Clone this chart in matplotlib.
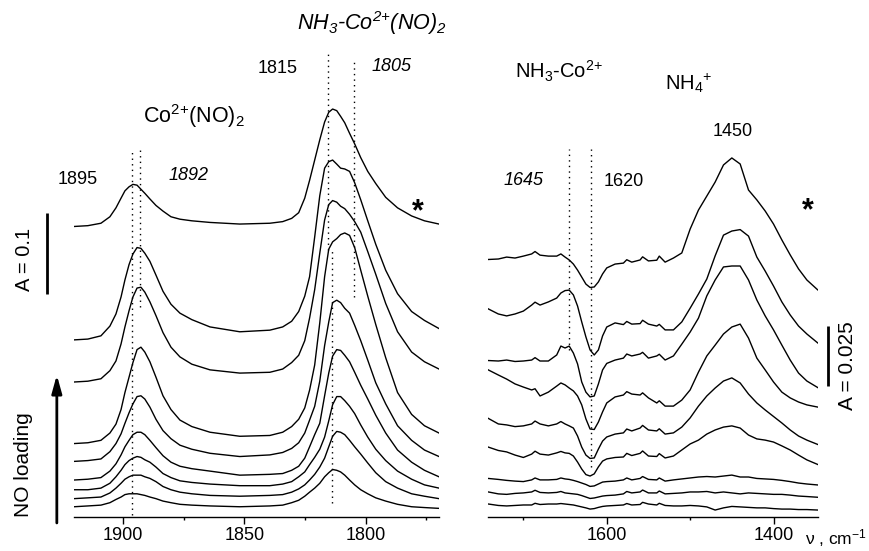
import numpy as np
import matplotlib.pyplot as plt

plt.rcParams['font.family'] = ['Liberation Sans', 'DejaVu Sans']
plt.rcParams['mathtext.default'] = 'regular'

# NO stretching region, spectra from top (*) to bottom, absorbance incl. offset
wn_left = [1920.3, 1914.6, 1909.2, 1905.5, 1903.0, 1900.9, 1899.3, 1897.6, 1896.0, 1894.3,
           1892.7, 1891.1, 1889.0, 1886.5, 1883.6, 1880.3, 1876.6, 1871.7, 1864.2, 1851.9,
           1839.5, 1834.2, 1830.5, 1827.6, 1825.1, 1823.1, 1821.0, 1818.9, 1816.9, 1815.2,
           1813.6, 1811.9, 1810.3, 1808.6, 1806.6, 1804.5, 1802.0, 1799.1, 1795.8, 1791.7,
           1786.8, 1781.0, 1775.7, 1769.7]

no_1 = [0.359, 0.360, 0.363, 0.371, 0.382, 0.394, 0.403, 0.408, 0.411, 0.410, 0.405, 0.400, 0.393, 0.385, 0.378, 0.371, 0.368, 0.366, 0.364, 0.362, 0.363, 0.365, 0.369, 0.376, 0.394, 0.416, 0.441, 0.466, 0.488, 0.500, 0.504, 0.502, 0.495, 0.487, 0.474, 0.461, 0.444, 0.427, 0.412, 0.395, 0.382, 0.372, 0.366, 0.362]
no_2 = [0.219, 0.220, 0.224, 0.236, 0.251, 0.272, 0.293, 0.312, 0.325, 0.333, 0.332, 0.326, 0.316, 0.299, 0.279, 0.263, 0.252, 0.244, 0.235, 0.229, 0.231, 0.235, 0.242, 0.254, 0.273, 0.297, 0.346, 0.397, 0.431, 0.439, 0.441, 0.436, 0.431, 0.430, 0.427, 0.413, 0.392, 0.366, 0.337, 0.305, 0.276, 0.254, 0.243, 0.233]
no_3 = [0.167, 0.168, 0.171, 0.181, 0.193, 0.214, 0.235, 0.255, 0.272, 0.283, 0.284, 0.278, 0.266, 0.249, 0.228, 0.210, 0.198, 0.189, 0.182, 0.178, 0.179, 0.183, 0.191, 0.200, 0.218, 0.246, 0.281, 0.326, 0.367, 0.386, 0.391, 0.389, 0.384, 0.381, 0.374, 0.365, 0.352, 0.328, 0.300, 0.264, 0.229, 0.204, 0.192, 0.183]
no_4 = [0.091, 0.092, 0.095, 0.104, 0.115, 0.133, 0.154, 0.173, 0.191, 0.207, 0.210, 0.204, 0.192, 0.173, 0.150, 0.133, 0.120, 0.112, 0.105, 0.100, 0.101, 0.105, 0.112, 0.121, 0.135, 0.157, 0.188, 0.240, 0.297, 0.331, 0.340, 0.344, 0.349, 0.351, 0.348, 0.333, 0.305, 0.273, 0.238, 0.197, 0.154, 0.127, 0.113, 0.104]
no_5 = [0.069, 0.070, 0.072, 0.081, 0.091, 0.103, 0.116, 0.129, 0.140, 0.149, 0.150, 0.146, 0.136, 0.121, 0.107, 0.097, 0.089, 0.084, 0.079, 0.075, 0.077, 0.080, 0.085, 0.092, 0.104, 0.120, 0.137, 0.168, 0.212, 0.241, 0.265, 0.268, 0.265, 0.258, 0.252, 0.237, 0.218, 0.194, 0.166, 0.140, 0.113, 0.095, 0.083, 0.075]
no_6 = [0.046, 0.047, 0.049, 0.057, 0.066, 0.077, 0.087, 0.095, 0.102, 0.105, 0.105, 0.102, 0.095, 0.086, 0.076, 0.068, 0.063, 0.060, 0.057, 0.052, 0.053, 0.054, 0.058, 0.063, 0.073, 0.087, 0.102, 0.116, 0.150, 0.178, 0.199, 0.207, 0.206, 0.200, 0.192, 0.179, 0.163, 0.146, 0.126, 0.104, 0.083, 0.068, 0.058, 0.050]
no_7 = [0.034, 0.034, 0.036, 0.042, 0.050, 0.058, 0.065, 0.070, 0.073, 0.075, 0.074, 0.071, 0.068, 0.062, 0.054, 0.049, 0.045, 0.043, 0.041, 0.039, 0.039, 0.041, 0.044, 0.050, 0.056, 0.065, 0.074, 0.084, 0.099, 0.119, 0.139, 0.149, 0.149, 0.144, 0.137, 0.128, 0.114, 0.099, 0.084, 0.070, 0.057, 0.047, 0.040, 0.036]
no_8 = [0.023, 0.024, 0.025, 0.030, 0.036, 0.042, 0.047, 0.050, 0.052, 0.052, 0.052, 0.050, 0.048, 0.044, 0.038, 0.034, 0.031, 0.029, 0.027, 0.026, 0.027, 0.028, 0.031, 0.035, 0.040, 0.046, 0.053, 0.062, 0.073, 0.087, 0.100, 0.106, 0.105, 0.102, 0.095, 0.087, 0.078, 0.067, 0.055, 0.044, 0.036, 0.029, 0.026, 0.023]
no_9 = [0.013, 0.014, 0.015, 0.018, 0.022, 0.025, 0.028, 0.029, 0.029, 0.029, 0.028, 0.027, 0.025, 0.023, 0.020, 0.018, 0.016, 0.015, 0.014, 0.013, 0.014, 0.015, 0.018, 0.021, 0.026, 0.031, 0.036, 0.042, 0.050, 0.055, 0.059, 0.058, 0.056, 0.052, 0.046, 0.040, 0.034, 0.029, 0.024, 0.020, 0.016, 0.013, 0.012, 0.011]

# NH deformation region
wn_right = [1742, 1730, 1720, 1710, 1700, 1690, 1686, 1680, 1670, 1660,
            1655, 1650, 1645, 1640, 1635, 1630, 1625, 1620, 1615, 1610,
            1605, 1600, 1590, 1580, 1576, 1570, 1560, 1557, 1550, 1540,
            1537, 1530, 1520, 1510, 1500, 1490, 1480, 1470, 1460, 1450,
            1440, 1430, 1420, 1410, 1400, 1390, 1380, 1370, 1360, 1347]

nh_1 = [0.1069, 0.1071, 0.1079, 0.1075, 0.1083, 0.1092, 0.1102, 0.1087, 0.1083, 0.1083, 0.1092, 0.1079, 0.1067, 0.1050, 0.1025, 0.0996, 0.0967, 0.0953, 0.0955, 0.0976, 0.1009, 0.1034, 0.1050, 0.1054, 0.1068, 0.1058, 0.1067, 0.1080, 0.1063, 0.1066, 0.1083, 0.1058, 0.1075, 0.1096, 0.1195, 0.1274, 0.1332, 0.1390, 0.1461, 0.1490, 0.1465, 0.1357, 0.1316, 0.1270, 0.1216, 0.1150, 0.1088, 0.1030, 0.0984, 0.0943]
nh_2 = [0.0864, 0.0843, 0.0835, 0.0843, 0.0855, 0.0880, 0.0892, 0.0880, 0.0893, 0.0909, 0.0930, 0.0940, 0.0942, 0.0922, 0.0876, 0.0810, 0.0748, 0.0694, 0.0673, 0.0694, 0.0752, 0.0789, 0.0806, 0.0799, 0.0812, 0.0801, 0.0803, 0.0817, 0.0801, 0.0793, 0.0800, 0.0777, 0.0777, 0.0810, 0.0867, 0.0926, 0.0988, 0.1084, 0.1170, 0.1187, 0.1193, 0.1166, 0.1079, 0.1021, 0.0959, 0.0893, 0.0839, 0.0793, 0.0760, 0.0723]
nh_3 = [0.0650, 0.0648, 0.0652, 0.0646, 0.0648, 0.0652, 0.0662, 0.0648, 0.0648, 0.0673, 0.0710, 0.0702, 0.0710, 0.0681, 0.0636, 0.0561, 0.0519, 0.0499, 0.0503, 0.0553, 0.0611, 0.0638, 0.0652, 0.0660, 0.0677, 0.0669, 0.0677, 0.0684, 0.0660, 0.0669, 0.0676, 0.0652, 0.0669, 0.0718, 0.0768, 0.0826, 0.0918, 0.0984, 0.1038, 0.1042, 0.1042, 0.0984, 0.0901, 0.0835, 0.0777, 0.0714, 0.0652, 0.0598, 0.0565, 0.0538]
nh_4 = [0.0611, 0.0590, 0.0573, 0.0553, 0.0540, 0.0528, 0.0533, 0.0503, 0.0519, 0.0544, 0.0557, 0.0549, 0.0536, 0.0524, 0.0503, 0.0466, 0.0408, 0.0366, 0.0364, 0.0395, 0.0437, 0.0474, 0.0499, 0.0507, 0.0521, 0.0511, 0.0507, 0.0516, 0.0495, 0.0474, 0.0483, 0.0461, 0.0461, 0.0486, 0.0528, 0.0602, 0.0669, 0.0714, 0.0760, 0.0789, 0.0801, 0.0743, 0.0660, 0.0611, 0.0561, 0.0519, 0.0495, 0.0478, 0.0466, 0.0457]
nh_5 = [0.0410, 0.0387, 0.0383, 0.0376, 0.0379, 0.0387, 0.0399, 0.0387, 0.0379, 0.0387, 0.0397, 0.0387, 0.0379, 0.0370, 0.0337, 0.0291, 0.0258, 0.0244, 0.0246, 0.0283, 0.0316, 0.0333, 0.0345, 0.0350, 0.0366, 0.0358, 0.0370, 0.0381, 0.0362, 0.0358, 0.0367, 0.0345, 0.0350, 0.0374, 0.0412, 0.0461, 0.0503, 0.0536, 0.0565, 0.0578, 0.0557, 0.0511, 0.0474, 0.0445, 0.0418, 0.0391, 0.0362, 0.0337, 0.0320, 0.0302]
nh_6 = [0.0291, 0.0277, 0.0271, 0.0258, 0.0248, 0.0262, 0.0274, 0.0262, 0.0258, 0.0267, 0.0273, 0.0267, 0.0265, 0.0254, 0.0229, 0.0200, 0.0177, 0.0171, 0.0180, 0.0209, 0.0233, 0.0242, 0.0248, 0.0250, 0.0265, 0.0256, 0.0265, 0.0275, 0.0254, 0.0252, 0.0264, 0.0246, 0.0254, 0.0279, 0.0304, 0.0320, 0.0345, 0.0362, 0.0374, 0.0379, 0.0370, 0.0341, 0.0325, 0.0320, 0.0312, 0.0296, 0.0279, 0.0258, 0.0238, 0.0219]
nh_7 = [0.0161, 0.0157, 0.0153, 0.0150, 0.0148, 0.0155, 0.0163, 0.0155, 0.0155, 0.0157, 0.0163, 0.0159, 0.0157, 0.0153, 0.0148, 0.0142, 0.0136, 0.0128, 0.0130, 0.0138, 0.0146, 0.0148, 0.0150, 0.0155, 0.0163, 0.0155, 0.0161, 0.0169, 0.0157, 0.0155, 0.0163, 0.0150, 0.0155, 0.0159, 0.0163, 0.0167, 0.0169, 0.0167, 0.0171, 0.0175, 0.0167, 0.0167, 0.0161, 0.0159, 0.0157, 0.0153, 0.0148, 0.0142, 0.0138, 0.0134]
nh_8 = [0.0105, 0.0097, 0.0095, 0.0099, 0.0101, 0.0105, 0.0112, 0.0103, 0.0101, 0.0103, 0.0107, 0.0101, 0.0099, 0.0097, 0.0095, 0.0090, 0.0084, 0.0078, 0.0080, 0.0084, 0.0088, 0.0090, 0.0092, 0.0097, 0.0107, 0.0101, 0.0105, 0.0113, 0.0101, 0.0101, 0.0109, 0.0097, 0.0099, 0.0101, 0.0105, 0.0105, 0.0107, 0.0101, 0.0105, 0.0101, 0.0097, 0.0101, 0.0099, 0.0097, 0.0095, 0.0095, 0.0092, 0.0088, 0.0086, 0.0083]
nh_9 = [0.0055, 0.0049, 0.0047, 0.0049, 0.0051, 0.0051, 0.0058, 0.0053, 0.0055, 0.0055, 0.0057, 0.0055, 0.0053, 0.0051, 0.0047, 0.0043, 0.0039, 0.0034, 0.0036, 0.0041, 0.0045, 0.0047, 0.0049, 0.0051, 0.0057, 0.0051, 0.0053, 0.0062, 0.0055, 0.0051, 0.0058, 0.0049, 0.0047, 0.0047, 0.0049, 0.0047, 0.0043, 0.0030, 0.0039, 0.0045, 0.0043, 0.0041, 0.0039, 0.0039, 0.0036, 0.0034, 0.0034, 0.0032, 0.0032, 0.0030]

no_spectra = [no_1, no_2, no_3, no_4, no_5, no_6, no_7, no_8, no_9]
nh_spectra = [nh_1, nh_2, nh_3, nh_4, nh_5, nh_6, nh_7, nh_8, nh_9]

fig = plt.figure(figsize=(8.7, 5.51), dpi=100)
axL = fig.add_axes([0.0851, 0.0612, 0.4195, 0.9388])
axR = fig.add_axes([0.5613, 0.0612, 0.3786, 0.9388])

for s in no_spectra:
    axL.plot(wn_left, s, color='k', lw=1.0)
for s in nh_spectra:
    axR.plot(wn_right, s, color='k', lw=1.0)

axL.set_xlim(1920.3, 1769.7)
axL.set_ylim(0, 0.6386)
axR.set_xlim(1742, 1347)
axR.set_ylim(0, 0.2145)

axL.set_xticks([1900, 1850, 1800])
axL.set_xticks([1875, 1825, 1775], minor=True)
axR.set_xticks([1600, 1400])
axR.set_xticks([1700, 1500], minor=True)

for ax in (axL, axR):
    for side in ('left', 'top', 'right'):
        ax.spines[side].set_visible(False)
    ax.spines['bottom'].set_linewidth(1.0)
    ax.yaxis.set_visible(False)
    ax.patch.set_visible(False)
    ax.tick_params(axis='x', which='major', length=4.8, width=1.0,
                   labelsize=13, pad=2)
    ax.tick_params(axis='x', which='minor', length=2.4, width=1.0)

dot = (0, (1, 3))
# dotted guide lines
axL.plot([1896.5, 1896.5], [0.003, 0.455], ls=dot, color='k', lw=1)
axL.plot([1893, 1893], [0.260, 0.455], ls=dot, color='k', lw=1)
axL.plot([1815.4, 1815.4], [0.330, 0.573], ls=dot, color='k', lw=1)
axL.plot([1813.7, 1813.7], [0.018, 0.330], ls=dot, color='k', lw=1)
axL.plot([1804.7, 1804.7], [0.272, 0.563], ls=dot, color='k', lw=1)
axR.plot([1645, 1645], [0.0694, 0.1527], ls=dot, color='k', lw=1)
axR.plot([1619, 1619], [0.0209, 0.1527], ls=dot, color='k', lw=1)

# scale bars
axL.plot([1931.5, 1931.5], [0.2753, 0.3753], color='k', lw=2,
         clip_on=False, solid_capstyle='butt')
axL.text(1940.6, 0.3177, 'A = 0.1', rotation=90, ha='center', va='center',
         fontsize=14.5)
axR.plot([1334.1, 1334.1], [0.0544, 0.0794], color='k', lw=2,
         clip_on=False, solid_capstyle='butt')
axR.text(1311.6, 0.0627, 'A = 0.025', rotation=90, ha='center', va='center',
         fontsize=15)

# NO loading arrow
axL.annotate('', xy=(1927.4, 0.1757), xytext=(1927.4, -0.007),
             arrowprops=dict(arrowstyle='-|>,head_length=0.9,head_width=0.25',
                             lw=2, color='k', mutation_scale=12,
                             shrinkA=0, shrinkB=0),
             annotation_clip=False)
axL.text(1941, 0.0646, 'NO loading', rotation=90, ha='center', va='center',
         fontsize=15)

# left labels
axL.text(1918.7, 0.4164, '1895', ha='center', va='center', fontsize=13)
axL.text(1872.9, 0.4214, '1892', ha='center', va='center', fontsize=13,
         style='italic')
axL.text(1871.0, 0.4864, 'Co$^{2{+}}$(NO)$_2$', ha='center', va='baseline',
         fontsize=15.5)
axL.text(1836.4, 0.5489, '1815', ha='center', va='baseline', fontsize=13)
axL.text(1789.4, 0.5510, '1805', ha='center', va='baseline', fontsize=13,
         style='italic')
axL.text(1797.2, 0.6016, 'NH$_3$-Co$^{2{+}}$(NO)$_2$', ha='center',
         va='baseline', fontsize=15.5, style='italic')
axL.text(1778.4, 0.3769, '*', ha='center', va='center', fontsize=22,
         fontweight='bold')

# right labels
axR.text(1657.5, 0.1820, 'NH$_3$-Co$^{2{+}}$', ha='center', va='baseline',
         fontsize=14.5)
axR.text(1502, 0.1772, 'NH$_4{}^{{+}}$', ha='center', va='baseline',
         fontsize=14.5)
axR.text(1448.4, 0.1581, '1450', ha='center', va='baseline', fontsize=13)
axR.text(1699.6, 0.1378, '1645', ha='center', va='baseline', fontsize=13,
         style='italic')
axR.text(1579.2, 0.1374, '1620', ha='center', va='baseline', fontsize=13)
axR.text(1358.4, 0.1267, '*', ha='center', va='center', fontsize=22,
         fontweight='bold')
axR.text(1288, -0.0112, 'ν , cm$^{-1}$', ha='right', va='baseline',
         fontsize=12.5)

fig.savefig('out.png', dpi=100)
